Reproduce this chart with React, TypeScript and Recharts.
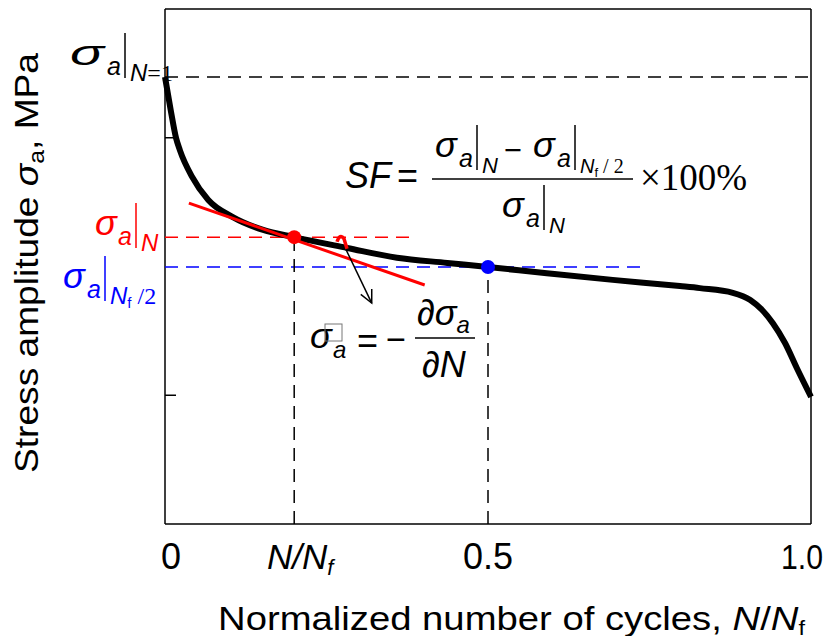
import React from "react";
import { ComposedChart, Line, XAxis, YAxis, ReferenceLine, ReferenceDot } from "recharts";

// normalized cycles N/Nf and stress amplitude (arbitrary units, 0-100)
const cycleFrac = [0, 0.0088, 0.017, 0.023, 0.042, 0.067, 0.105, 0.152, 0.2, 0.282, 0.359, 0.437, 0.5, 0.591, 0.693, 0.797, 0.828, 0.879, 0.906, 0.924, 0.941, 0.96, 0.978, 1.0];
const stressAmp = [86.8, 80.4, 75.0, 72.6, 67.4, 62.9, 59.6, 57.1, 55.7, 53.6, 51.7, 50.7, 49.9, 48.7, 47.4, 46.2, 45.8, 44.9, 43.5, 41.6, 39.0, 35.1, 30.3, 24.7];

const tangentX = [0.037, 0.402];
const tangentY = [62.3, 46.4];

const levelN1 = 86.8;
const pointN = 0.2;
const levelN = 55.7;
const pointHalf = 0.5;
const levelHalf = 49.9;
const redDashEnd = 0.382;
const blueDashEnd = 0.74;

const arrowFrom = [0.279, 53.6];
const arrowTo = [0.32, 42.9];
const hookAt = [0.274, 54.6];

const xTicks = [0, 0.2, 0.5, 1];
const xTickLabels = ["0", "N/Nf", "0.5", "1.0"];
const yTicks = [25, 75];

const curve = cycleFrac.map((x, i) => ({ x, y: stressAmp[i] }));
const tangent = tangentX.map((x, i) => ({ x, y: tangentY[i] }));

const SANS = "'Liberation Sans', Arial, sans-serif";
const SERIF = "'Liberation Serif', 'Times New Roman', serif";

const W = 817;
const H = 628;

function XTick(props: any) {
  const { x, y, payload } = props;
  const i = xTicks.indexOf(payload.value);
  const label = xTickLabels[i];
  if (label === "N/Nf") {
    return (
      <text x={x + 6} y={y + 37} textAnchor="middle" fontFamily={SANS} fontSize={35} fontStyle="italic" fill="#000">
        N/N<tspan fontSize={22} dy={6}>f</tspan>
      </text>
    );
  }
  if (i === 3) {
    return (
      <text x={x + 12} y={y + 37} textAnchor="end" fontFamily={SANS} fontSize={35} fill="#000" textLength={42} lengthAdjust="spacingAndGlyphs">
        {label}
      </text>
    );
  }
  return (
    <text x={x + (i === 0 ? 6 : 0)} y={y + 37} textAnchor="middle" fontFamily={SANS} fontSize={36} fill="#000">
      {label}
    </text>
  );
}

function Arrow(props: any) {
  const { x1, y1, x2, y2 } = props;
  if (x1 == null) return null;
  const a = Math.atan2(y2 - y1, x2 - x1);
  const L = 14;
  const s = 0.45;
  return (
    <g>
      <line x1={x1} y1={y1} x2={x2} y2={y2} stroke="#000" strokeWidth={1.5} />
      <polyline
        points={`${x2 - L * Math.cos(a - s)},${y2 - L * Math.sin(a - s)} ${x2},${y2} ${x2 - L * Math.cos(a + s)},${y2 - L * Math.sin(a + s)}`}
        fill="none"
        stroke="#000"
        strokeWidth={1.5}
      />
    </g>
  );
}

function Hook(props: any) {
  const { cx, cy } = props;
  if (cx == null) return null;
  return <path d={`M${cx - 5},${cy - 1} Q${cx - 2},${cy - 10} ${cx + 2},${cy - 4} L${cx + 5},${cy + 6}`} fill="none" stroke="#ff0000" strokeWidth={3.5} />;
}

function SigLabel({ x, y, color, aDx, sub, sigW }: { x: number; y: number; color: string; aDx: number; sub: React.ReactNode; sigW?: number }) {
  return (
    <g fill={color}>
      <text x={x} y={y} fontFamily={SANS} fontStyle="italic" fontSize={36} textLength={sigW} lengthAdjust="spacingAndGlyphs">σ</text>
      <text x={x + aDx} y={y + 10} fontFamily={SANS} fontStyle="italic" fontSize={25}>a</text>
      <line x1={x + aDx + 18} y1={y - 32} x2={x + aDx + 18} y2={y + 13} stroke={color} strokeWidth={1.5} />
      <g transform={`translate(${x + aDx + 23},${y + 16})`}>{sub}</g>
    </g>
  );
}

function Overlay() {
  return (
    <svg width={W} height={H} style={{ position: "absolute", left: 0, top: 0, pointerEvents: "none", overflow: "visible" }}>
      {/* y axis title */}
      <text
        transform="rotate(-90 30 255)"
        x={30}
        y={255}
        textAnchor="middle"
        fontFamily={SANS}
        fontSize={33}
        fill="#000"
        textLength={420}
        lengthAdjust="spacingAndGlyphs"
      >
        Stress amplitude <tspan fontStyle="italic">σ</tspan>
        <tspan fontSize={22} dy={6}>a</tspan>
        <tspan dy={-6}>, MPa</tspan>
      </text>
      {/* x axis title */}
      <text x={210} y={622} fontFamily={SANS} fontSize={34} fill="#000" textLength={587} lengthAdjust="spacingAndGlyphs">
        Normalized number of cycles, <tspan fontStyle="italic">N</tspan>/<tspan fontStyle="italic">N</tspan>
        <tspan fontSize={21} dy={5}>f</tspan>
      </text>

      <SigLabel
        x={62}
        y={57}
        color="#000"
        aDx={37}
        sigW={34}
        sub={
          <text fontSize={24}>
            <tspan fontFamily={SANS} fontStyle="italic">N</tspan>
            <tspan fontFamily={SERIF}>=1</tspan>
          </text>
        }
      />
      <SigLabel x={87} y={227} color="#ff0000" aDx={23} sub={<text fontFamily={SANS} fontStyle="italic" fontSize={24}>N</text>} />
      <SigLabel
        x={55}
        y={280}
        color="#0000ff"
        aDx={24}
        sub={
          <text fontSize={24}>
            <tspan fontFamily={SANS} fontStyle="italic">N</tspan>
            <tspan fontFamily={SANS} fontSize={15} dy={4}>f</tspan>
            <tspan fontFamily={SERIF} dy={-4}> /2</tspan>
          </text>
        }
      />

      {/* SF formula */}
      <g fill="#000">
        <text x={337} y={180} fontFamily={SANS} fontStyle="italic" fontSize={36}>SF</text>
        <text x={389} y={180} fontFamily={SANS} fontSize={36}>=</text>
        <line x1={424} y1={171} x2={625} y2={171} stroke="#000" strokeWidth={1.5} />
        <SigLabel x={427} y={149} color="#000" aDx={24} sub={<text fontFamily={SANS} fontStyle="italic" fontSize={22}>N</text>} />
        <text x={496} y={153} fontFamily={SANS} fontSize={32} textLength={18} lengthAdjust="spacingAndGlyphs">−</text>
        <SigLabel
          x={525}
          y={149}
          color="#000"
          aDx={24}
          sub={
            <text fontSize={20}>
              <tspan fontFamily={SANS} fontStyle="italic">N</tspan>
              <tspan fontFamily={SANS} fontSize={13} dy={4}>f</tspan>
              <tspan fontFamily={SERIF} dy={-4}> / 2</tspan>
            </text>
          }
        />
        <SigLabel x={494} y={209} color="#000" aDx={24} sub={<text fontFamily={SANS} fontStyle="italic" fontSize={22}>N</text>} />
        <text x={632} y={182} fontFamily={SERIF} fontSize={37}>×100%</text>
      </g>

      {/* rate formula */}
      <g fill="#000">
        <text x={302} y={340} fontFamily={SANS} fontStyle="italic" fontSize={36}>σ</text>
        <rect x={317} y={316} width={17} height={17} fill="none" stroke="#777" strokeWidth={1} />
        <text x={325} y={350} fontFamily={SANS} fontStyle="italic" fontSize={24}>a</text>
        <text x={349} y={345} fontFamily={SANS} fontSize={36}>=</text>
        <text x={378} y={343} fontFamily={SANS} fontSize={34} textLength={20} lengthAdjust="spacingAndGlyphs">−</text>
        <line x1={407} y1={330} x2={467} y2={330} stroke="#000" strokeWidth={1.5} />
        <text x={409} y={317} fontFamily={SANS} fontStyle="italic" fontSize={36}>
          ∂σ<tspan fontSize={24} dy={8}>a</tspan>
        </text>
        <text x={414} y={369} fontFamily={SANS} fontStyle="italic" fontSize={36}>∂N</text>
      </g>
    </svg>
  );
}

export default function App() {
  return (
    <div style={{ position: "relative", width: W, height: H, background: "#fff" }}>
      <style>{`.recharts-surface { overflow: visible; } .recharts-wrapper { overflow: visible; }`}</style>
      <ComposedChart width={W} height={H} margin={{ top: 1, right: 14, left: 157, bottom: 0 }}>
        <XAxis
          type="number"
          dataKey="x"
          domain={[0, 1]}
          ticks={xTicks}
          tickLine={false}
          axisLine={{ stroke: "#000", strokeWidth: 1.5 }}
          tick={<XTick />}
          height={112}
          interval={0}
        />
        <YAxis type="number" domain={[0, 100]} ticks={yTicks} width={0} tick={false} tickLine={false} axisLine={false} />

        {/* frame */}
        <ReferenceLine x={0} stroke="#000" strokeWidth={1.5} />
        <ReferenceLine y={100} stroke="#000" strokeWidth={1.5} />
        <ReferenceLine x={1} stroke="#000" strokeWidth={1.5} />
        {yTicks.map((t) => (
          <ReferenceLine key={t} segment={[{ x: 0, y: t }, { x: 0.017, y: t }]} stroke="#000" strokeWidth={1.5} />
        ))}

        {/* guide lines */}
        <ReferenceLine segment={[{ x: 0, y: levelN1 }, { x: 1, y: levelN1 }]} stroke="#000" strokeWidth={1.5} strokeDasharray="13 8" />
        <ReferenceLine segment={[{ x: 0, y: levelN }, { x: redDashEnd, y: levelN }]} stroke="#ff0000" strokeWidth={1.5} strokeDasharray="13 8" />
        <ReferenceLine segment={[{ x: 0, y: levelHalf }, { x: blueDashEnd, y: levelHalf }]} stroke="#0000ff" strokeWidth={1.5} strokeDasharray="13 8" />
        <ReferenceLine segment={[{ x: pointN, y: 0 }, { x: pointN, y: levelN }]} stroke="#000" strokeWidth={1.5} strokeDasharray="13 8" />
        <ReferenceLine segment={[{ x: pointHalf, y: 0 }, { x: pointHalf, y: levelHalf }]} stroke="#000" strokeWidth={1.5} strokeDasharray="13 8" />

        <Line data={curve} dataKey="y" type="monotone" stroke="#000" strokeWidth={6} dot={false} isAnimationActive={false} />
        <Line data={tangent} dataKey="y" type="linear" stroke="#ff0000" strokeWidth={3} dot={false} isAnimationActive={false} />

        <ReferenceLine segment={[{ x: arrowFrom[0], y: arrowFrom[1] }, { x: arrowTo[0], y: arrowTo[1] }]} shape={<Arrow />} />
        <ReferenceDot x={hookAt[0]} y={hookAt[1]} r={4} shape={<Hook />} />

        <ReferenceDot x={pointN} y={levelN} r={7} fill="#ff0000" stroke="none" />
        <ReferenceDot x={pointHalf} y={levelHalf} r={7} fill="#0000ff" stroke="none" />
      </ComposedChart>
      <Overlay />
    </div>
  );
}
